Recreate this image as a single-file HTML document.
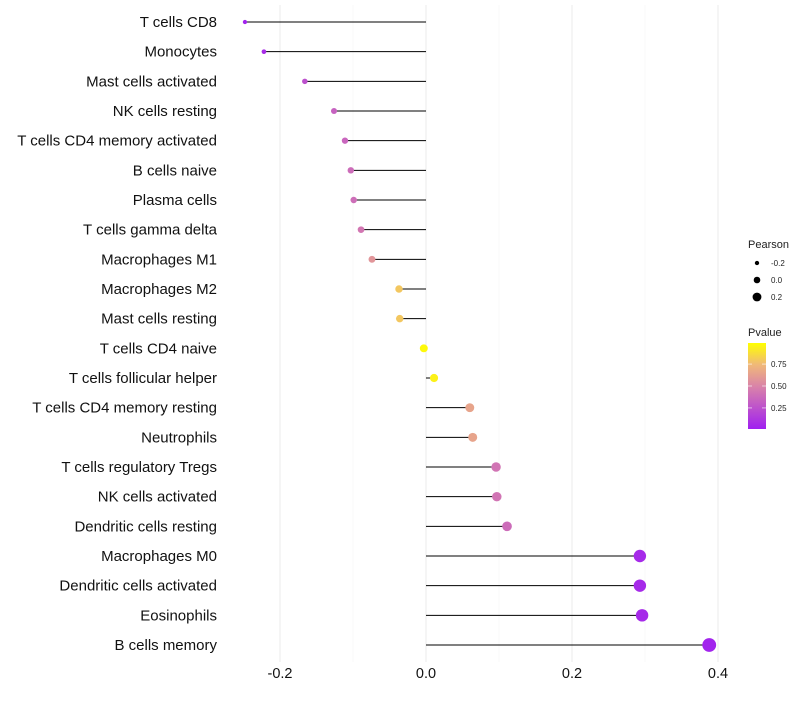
<!DOCTYPE html>
<html><head><meta charset="utf-8"><style>
body{margin:0;background:#fff;font-family:"Liberation Sans",sans-serif}
</style></head><body>
<svg id="chart" width="800" height="700" xmlns="http://www.w3.org/2000/svg"></svg>
<script>
const categories=["T cells CD8","Monocytes","Mast cells activated","NK cells resting","T cells CD4 memory activated","B cells naive","Plasma cells","T cells gamma delta","Macrophages M1","Macrophages M2","Mast cells resting","T cells CD4 naive","T cells follicular helper","T cells CD4 memory resting","Neutrophils","T cells regulatory  Tregs ","NK cells activated","Dendritic cells resting","Macrophages M0","Dendritic cells activated","Eosinophils","B cells memory"];
const pearson=[-0.248,-0.222,-0.166,-0.126,-0.111,-0.103,-0.099,-0.089,-0.074,-0.037,-0.036,-0.003,0.011,0.060,0.064,0.096,0.097,0.111,0.293,0.293,0.296,0.388];
const pvalue=[0.02,0.06,0.24,0.33,0.35,0.38,0.39,0.43,0.58,0.8,0.8,0.98,0.95,0.65,0.65,0.42,0.42,0.38,0.05,0.05,0.05,0.02];
const xTicks=[-0.2,0.0,0.2,0.4];
const xTickLabels=["-0.2","0.0","0.2","0.4"];
const sizeLegend=[-0.2,0.0,0.2];
const pTicks=[0.25,0.5,0.75];
const pTickLabels=["0.25","0.50","0.75"];

const NS="http://www.w3.org/2000/svg";
const svg=document.getElementById('chart');
function el(t,a,p){const e=document.createElementNS(NS,t);for(const k in a)e.setAttribute(k,a[k]);(p||svg).appendChild(e);return e;}
const xs=v=>426+v*730;
const ys=i=>22+i*(623/21);
const rs=v=>4+7.5*v;
function lerp(a,b,t){return a.map((x,i)=>Math.round(x+(b[i]-x)*t));}
const stops=[[0,[160,32,240]],[0.5,[218,132,168]],[0.75,[240,185,120]],[1,[255,255,0]]];
function col(p){for(let i=0;i<stops.length-1;i++){if(p<=stops[i+1][0]){const t=(p-stops[i][0])/(stops[i+1][0]-stops[i][0]);const c=lerp(stops[i][1],stops[i+1][1],t);return `rgb(${c})`;}}return 'rgb(255,255,0)';}

xTicks.forEach((t,i)=>{
  const g=el('line',{x1:xs(t),x2:xs(t),y1:5,y2:662,stroke:'#ebebeb','stroke-width':1});
  
  
  const tx=el('text',{x:xs(t),y:678,'text-anchor':'middle','font-size':14.5,fill:'#111'});
  tx.textContent=xTickLabels[i];
  
  
});
const minor=[-0.1,0.1,0.3];
minor.forEach(t=>{const g=el('line',{x1:xs(t),x2:xs(t),y1:5,y2:662,stroke:'#f4f4f4','stroke-width':0.6});

});

categories.forEach((c,i)=>{
  const y=ys(i);
  const lab=el('text',{x:217,y:y+5,'text-anchor':'end','font-size':15,fill:'#111'});
  lab.textContent=c;
  
  
  const ln=el('line',{x1:xs(0),x2:xs(pearson[i]),y1:y,y2:y,stroke:'#000','stroke-width':1});
  
  
  const pt=el('circle',{cx:xs(pearson[i]),cy:y,r:Math.max(1.2,rs(pearson[i])),fill:col(pvalue[i])});
  
  
});

const lt=el('text',{x:748,y:248,'font-size':11,fill:'#222'});lt.textContent='Pearson';


sizeLegend.forEach((v,i)=>{
  const y=263+i*17;
  const c=el('circle',{cx:757,cy:y,r:rs(v)*0.75+0.3,fill:'#000'});
  
  
  const t=el('text',{x:771,y:y+3,'font-size':8,fill:'#222'});t.textContent=v.toFixed(1);
  
  
});
const ct=el('text',{x:748,y:336,'font-size':11,fill:'#222'});ct.textContent='Pvalue';


const defs=el('defs',{});
const lg=el('linearGradient',{id:'pg',x1:0,y1:1,x2:0,y2:0},defs);
stops.forEach(s=>el('stop',{offset:s[0],'stop-color':`rgb(${s[1]})`},lg));
const cbTop=343,cbBot=429;
const cb=el('rect',{x:748,y:cbTop,width:18,height:cbBot-cbTop,fill:'url(#pg)'});


const py=p=>cbBot-(p-0.01)/(0.99-0.01)*(cbBot-cbTop);
pTicks.forEach((p,i)=>{
  el('line',{x1:748,x2:752,y1:py(p),y2:py(p),stroke:'#fff','stroke-width':0.6});
  el('line',{x1:762,x2:766,y1:py(p),y2:py(p),stroke:'#fff','stroke-width':0.6});
  const t=el('text',{x:771,y:py(p)+3,'font-size':8,fill:'#222'});t.textContent=pTickLabels[i];
  
  
});
</script>
</body></html>
